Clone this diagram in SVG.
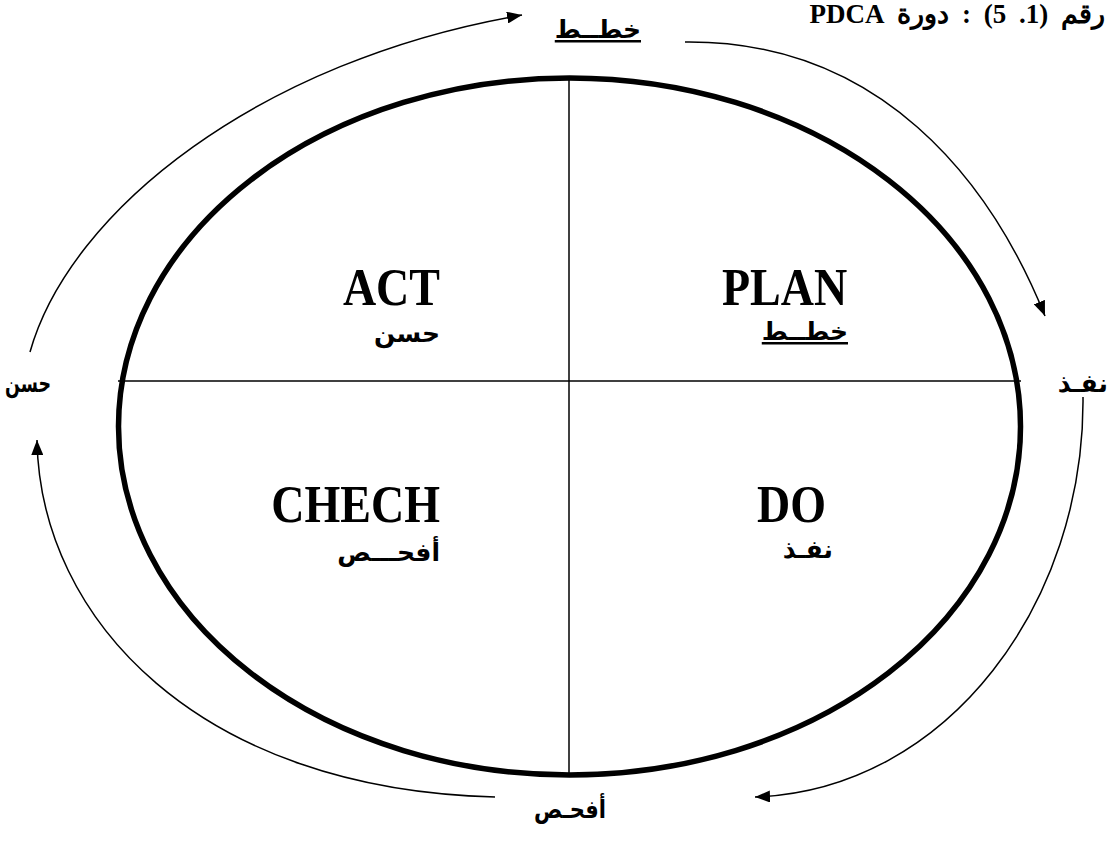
<svg xmlns="http://www.w3.org/2000/svg" width="1110" height="851" viewBox="0 0 1110 851">
  <style>
    .lat { font-family: "Liberation Serif", "DejaVu Serif", serif; font-weight: bold; fill: #000; }
    .ar { font-family: "DejaVu Sans", "Liberation Sans", sans-serif; font-weight: bold; fill: #000; }
    .big { font-size: 46px; }
    .lbl { font-size: 25px; }
    .ul { text-decoration: underline; }
    .arc { fill: none; stroke: #000; stroke-width: 1.5; }
    .div { stroke: #000; stroke-width: 1.5; }
  </style>
  <defs>
    <marker id="head" markerUnits="userSpaceOnUse" markerWidth="16" markerHeight="12" refX="15" refY="6" orient="auto">
      <path d="M0,0 L15,6 L0,12 Z" fill="#000"/>
    </marker>
  </defs>
  <rect width="1110" height="851" fill="#fff"/>

  <!-- caption -->
  <text id="title" class="lat" x="1105" y="23" font-size="27" word-spacing="6" direction="rtl" text-anchor="start">رقم (1. 5) : دورة PDCA</text>

  <!-- main cycle: ellipse split into four quadrants -->
  <g id="cycle">
    <ellipse cx="569.5" cy="426.5" rx="451" ry="348.5" fill="none" stroke="#000" stroke-width="5.5"/>
    <line class="div" x1="569" y1="78" x2="569" y2="775"/>
    <line class="div" x1="118" y1="381" x2="1021" y2="381"/>
  </g>

  <g id="act">
    <text class="lat big" transform="translate(440 305) scale(1 1.17)" text-anchor="end">ACT</text>
    <text class="ar lbl" x="440" y="342" direction="rtl" text-anchor="start">حسن</text>
  </g>
  <g id="plan">
    <text class="lat big" transform="translate(722 305) scale(1 1.17)">PLAN</text>
    <text class="ar lbl ul" x="848" y="340" direction="rtl" text-anchor="start">خطــط</text>
  </g>
  <g id="check">
    <text class="lat big" transform="translate(440 522) scale(1 1.17)" text-anchor="end">CHECH</text>
    <text class="ar lbl" x="440" y="561" direction="rtl" text-anchor="start">أفحـــص</text>
  </g>
  <g id="do">
    <text class="lat big" transform="translate(757 522) scale(1 1.17)">DO</text>
    <text class="ar lbl" x="833" y="558" direction="rtl" text-anchor="start">نفـذ</text>
  </g>

  <!-- outer step labels -->
  <g id="step-plan">
    <text class="ar lbl ul" x="641" y="38" direction="rtl" text-anchor="start">خطــط</text>
  </g>
  <g id="step-do">
    <text class="ar lbl" x="1108" y="392" direction="rtl" text-anchor="start">نفـذ</text>
  </g>
  <g id="step-check">
    <text class="ar lbl" x="606" y="818" direction="rtl" text-anchor="start" textLength="72" lengthAdjust="spacingAndGlyphs">أفحـص</text>
  </g>
  <g id="step-act">
    <text class="ar lbl" x="51" y="392" direction="rtl" text-anchor="start" textLength="46" lengthAdjust="spacingAndGlyphs">حسن</text>
  </g>

  <!-- outer arrows running clockwise between the step labels -->
  <g id="connectors">
    <path class="arc" marker-end="url(#head)" d="M 30 352 C 70 210, 260 60, 522 15"/>
    <path class="arc" marker-end="url(#head)" d="M 685 42 C 880 40, 990 180, 1045 316"/>
    <path class="arc" marker-end="url(#head)" d="M 1083 397 C 1085 600, 950 790, 755 797"/>
    <path class="arc" marker-end="url(#head)" d="M 495 797 C 200 790, 40 620, 37 440"/>
  </g>
</svg>
